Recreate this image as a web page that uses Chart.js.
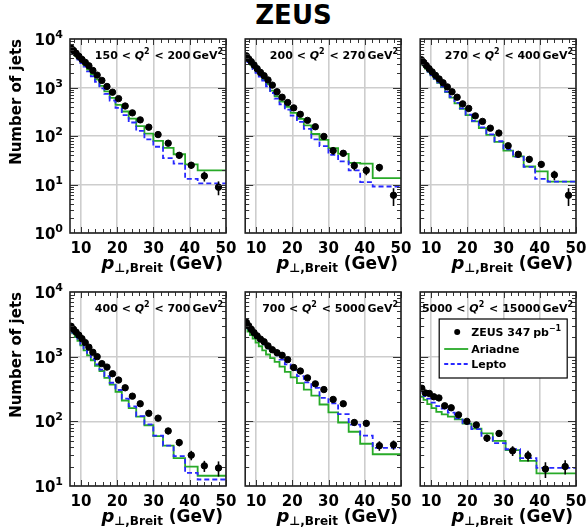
<!DOCTYPE html>
<html><head><meta charset="utf-8">
<script src="https://cdn.jsdelivr.net/npm/chart.js@4/dist/chart.umd.min.js"></script>
<style>
html,body{margin:0;padding:0;background:#fff;}
#wrap{position:relative;width:587px;height:528px;overflow:hidden;background:#fff;}
#title{position:absolute;left:0;top:2px;width:587px;text-align:center;font:bold 26px "DejaVu Sans",sans-serif;line-height:26px;color:#000;}
.pc{position:absolute;}
</style></head>
<body><div id="wrap"><div id="title">ZEUS</div></div>
<script>
// ---- bins (GeV) ----
const edgesFine = [7.0, 7.63, 8.31, 9.05, 9.86, 10.74, 11.70, 12.74, 13.88, 15.12, 16.47, 17.94, 19.54, 21.28, 23.18, 25.25, 27.51, 29.97, 32.64, 35.56, 38.73, 42.19, 45.96, 50.0];
const edgesCoarse = [7.0, 7.92, 8.95, 10.12, 11.44, 12.94, 14.63, 16.54, 18.70, 21.15, 23.91, 27.04, 30.57, 34.57, 39.09, 44.20, 50.0];
const xTickValues = [8,10,12,14,16,18,20,22,24,26,28,30,32,34,36,38,40,42,44,46,48,50];
const yTicksTop = [1,10,100,1000,10000];
const yTicksBottom = [10,100,1000,10000];
const q2Labels = [["150","200"],["200","270"],["270","400"],["400","700"],["700","5000"],["5000","15000"]];
const legendLabels = ["ZEUS 347", "Ariadne", "Lepto"];

// ---- panel 1: 150 < Q2 < 200 ----
const dataQ1    = [6500,5800,5100,4400,3800,3300,2800,2250,1800,1400,1050,800,590,415,300,215,152,107,71,40,25,15,8.8];
const errQ1     = [90,80,70,65,60,55,50,45,40,35,30,28,24,20,17,14,12,10,8,6,4,3.5,2.8];
const ariadneQ1 = [6700,5900,5200,4500,3900,3400,2900,2350,1850,1450,1080,830,610,440,320,228,160,112,79,57,42,26,19.6];
const leptoQ1   = [6600,5800,5000,4300,3750,3200,2700,2150,1700,1300,960,740,540,380,270,190,128,85,60,35,27,13,10.5];
// ---- panel 2: 200 < Q2 < 270 ----
const dataQ2    = [4500,3900,3400,2900,2450,2050,1750,1430,1120,815,630,490,380,280,210,155,98,50,44,24.5,19.5,22.5,6.0];
const errQ2     = [80,70,65,60,55,50,45,40,35,30,28,25,22,18,15,13,12,9,6,5,4,4,2.4];
const ariadneQ2 = [4600,4000,3450,2950,2500,2100,1800,1480,1170,860,660,510,400,300,225,165,110,83,56,43,28,27,13.5];
const leptoQ2   = [4500,3900,3350,2850,2400,2000,1680,1380,1060,770,590,450,350,262,195,140,85,62,41,30,19.5,11.2,9.1];
// ---- panel 3: 270 < Q2 < 400 ----
const dataQ3    = [3750,3300,2850,2450,2100,1780,1500,1250,1030,815,630,460,370,260,200,145,115,63,42,33,26,15.8,6.0];
const errQ3     = [75,70,65,60,55,50,45,40,35,30,28,25,22,18,15,13,12,9,6,5,4,3.5,2.4];
const ariadneQ3 = [3750,3300,2850,2450,2100,1780,1500,1250,1020,800,620,470,365,270,200,145,105,76,50,38,23.5,18.6,11.5];
const leptoQ3   = [3800,3350,2900,2480,2120,1800,1520,1270,1040,820,640,480,370,275,205,150,108,78,53,37,23,13,11.5];
// ---- panel 4: 400 < Q2 < 700 ----
const dataQ4    = [2950,2650,2400,2150,1900,1650,1400,1170,1000,780,690,545,435,330,245,187,133,112,71,47,30,20.5,19];
const errQ4     = [60,55,50,48,45,42,40,37,34,30,28,25,22,18,16,14,12,10,8,6,5,4,5];
const ariadneQ4 = [2950,2600,2300,2000,1750,1500,1250,1050,880,720,600,470,370,285,210,160,118,87,59,42,27,20,14.4];
const leptoQ4   = [3000,2650,2350,2050,1800,1550,1300,1100,920,760,630,500,395,305,225,170,120,90,60,42,29,16,12.6];
// ---- panel 5: 700 < Q2 < 5000 ----
const dataQ5    = [3400,3000,2650,2350,2100,1870,1700,1470,1280,1150,1050,900,680,600,470,380,310,218,187,96,93,42,43.5];
const errQ5     = [70,65,60,55,50,48,45,42,40,36,34,32,28,24,22,19,17,15,14,10,10,7,7];
const ariadneQ5 = [3200,2800,2450,2150,1900,1650,1450,1250,1080,950,830,700,580,480,390,310,250,182,138,96,69,45,31];
const leptoQ5   = [3500,3100,2750,2450,2200,1950,1750,1550,1350,1200,1050,900,760,620,500,400,330,230,190,129,89,60,39];
// ---- panel 6: 5000 < Q2 < 15000 ----
const dataQ6    = [325,275,270,240,230,174,162,126,100,88,55,65,35,29.5,18.3,20];
const errQ6     = [18,16,16,15,15,13,13,12,10,9,7,8,6,5.5,5,5];
const ariadneQ6 = [265,240,215,185,160,140,128,118,107,92,77,65,50,36,24.5,15.7];
const leptoQ6   = [316,276,245,224,195,172,157,136,111,92,76,57,46,37,27,19];

// ---- layout (plot areas) ----
const FONT = '"DejaVu Sans", sans-serif';
const GREEN = 'rgb(40,170,40)';
const BLUE = 'rgb(40,40,255)';
const GRID = 'rgb(205,205,205)';
const cols = [{l:70,r:226},{l:245,r:401},{l:420,r:576}];
const rows = [{t:39,b:233},{t:292,b:486}];

const panels = [
  {edges:edgesFine, data:dataQ1, err:errQ1, ari:ariadneQ1, lep:leptoQ1},
  {edges:edgesFine, data:dataQ2, err:errQ2, ari:ariadneQ2, lep:leptoQ2},
  {edges:edgesFine, data:dataQ3, err:errQ3, ari:ariadneQ3, lep:leptoQ3},
  {edges:edgesFine, data:dataQ4, err:errQ4, ari:ariadneQ4, lep:leptoQ4},
  {edges:edgesFine, data:dataQ5, err:errQ5, ari:ariadneQ5, lep:leptoQ5},
  {edges:edgesCoarse, data:dataQ6, err:errQ6, ari:ariadneQ6, lep:leptoQ6}
];

function stepPoints(edges, vals){
  const pts = vals.map((v,i)=>({x:edges[i], y:v}));
  pts.push({x:edges[edges.length-1], y:vals[vals.length-1]});
  return pts;
}
function centerPoints(edges, vals){
  return vals.map((v,i)=>({x:Math.sqrt(edges[i]*edges[i+1]), y:v}));
}
function fontStr(s){
  return (s.italic?'italic ':'') + 'bold ' + s.size + 'px ' + FONT;
}
function rich(ctx, segs, x, y, align){
  const w = segs.map(s=>{ctx.font = fontStr(s); return ctx.measureText(s.t).width + (s.gap||0);});
  const total = w.reduce((a,b)=>a+b,0);
  let cx = align==='right' ? x-total : (align==='center' ? x-total/2 : x);
  ctx.textAlign='left'; ctx.textBaseline='alphabetic';
  segs.forEach((s,i)=>{ ctx.font=fontStr(s); ctx.fillText(s.t, cx + (s.pre||0), y + (s.dy||0)); cx += w[i]; });
}

const decor = {
  id:'decor',
  afterDatasetsDraw(chart, args, opts){
    const ctx = chart.ctx, ca = chart.chartArea, xs = chart.scales.x, ys = chart.scales.y;
    const p = opts.panel;
    ctx.save();
    // error bars
    ctx.beginPath(); ctx.rect(ca.left, ca.top, ca.right-ca.left, ca.bottom-ca.top); ctx.clip();
    ctx.strokeStyle='#000'; ctx.lineWidth=1.6;
    p.data.forEach((v,i)=>{
      const xc = Math.sqrt(p.edges[i]*p.edges[i+1]);
      const px = xs.getPixelForValue(xc);
      const y1 = ys.getPixelForValue(v + p.err[i]);
      const y2 = ys.getPixelForValue(Math.max(v - p.err[i], 0.01));
      ctx.beginPath(); ctx.moveTo(px, y1); ctx.lineTo(px, y2); ctx.stroke();
    });
    ctx.restore();
    ctx.save();
    // minor/major ticks inward
    ctx.strokeStyle='#333'; ctx.lineWidth=1;
    xTickValues.forEach(v=>{
      const px = Math.round(xs.getPixelForValue(v))+0.5;
      const len = (v%10===0)?6:4;
      ctx.beginPath();
      ctx.moveTo(px, ca.bottom); ctx.lineTo(px, ca.bottom-len);
      ctx.moveTo(px, ca.top); ctx.lineTo(px, ca.top+len);
      ctx.stroke();
    });
    const ymin = ys.min, ymax = ys.max;
    for(let d=ymin; d<ymax; d*=10){
      for(let m=1; m<10; m++){
        const v = d*m;
        if(v<=ymin || v>=ymax) continue;
        const py = Math.round(ys.getPixelForValue(v))+0.5;
        const len = (m===1)?8:4;
        ctx.beginPath();
        ctx.moveTo(ca.left, py); ctx.lineTo(ca.left+len, py);
        ctx.moveTo(ca.right, py); ctx.lineTo(ca.right-len, py);
        ctx.stroke();
      }
    }
    // frame
    ctx.strokeStyle='#222'; ctx.lineWidth=1.6;
    ctx.strokeRect(ca.left, ca.top, ca.right-ca.left, ca.bottom-ca.top);
    ctx.fillStyle='#000';
    // y tick labels (10 with raised exponent), left column only
    if(opts.index%3===0){
      ys.ticks.forEach(t=>{
        const py = ys.getPixelForValue(t.value);
        const e = String(Math.round(Math.log10(t.value)));
        rich(ctx, [{t:'10', size:15},{t:e, size:11, dy:-7}], ca.left-7, py+6, 'right');
      });
    }
    // panel label
    const lab = q2Labels[opts.index];
    rich(ctx, [
      {t:lab[0]+' < ', size:11},
      {t:'Q', size:11, italic:true},
      {t:'2', size:8, dy:-5, gap:1},
      {t:' < '+lab[1], size:11, gap:2},
      {t:'GeV', size:11},
      {t:'2', size:8, dy:-5}
    ], ca.right-3, ca.top+20, 'right');
    // x title
    rich(ctx, [
      {t:'p', size:18, italic:true},
      {t:'\u22a5,Breit', size:12, dy:3},
      {t:' (GeV)', size:17}
    ], ca.right-3, ca.bottom+36, 'right');
    // legend
    if(opts.index===5){
      const bx = ca.left+19, by = ca.top+27, bw = 128, bh = 59;
      ctx.fillStyle='#fff'; ctx.fillRect(bx,by,bw,bh);
      ctx.strokeStyle='#000'; ctx.lineWidth=1.2; ctx.strokeRect(bx,by,bw,bh);
      ctx.fillStyle='#000';
      ctx.beginPath(); ctx.arc(ca.left+37, ca.top+40, 3, 0, Math.PI*2); ctx.fill();
      rich(ctx, [{t:legendLabels[0]+' ', size:11, gap:-1},{t:'pb', size:11},{t:'\u22121', size:8, dy:-5}], ca.left+51, ca.top+44, 'left');
      ctx.strokeStyle=GREEN; ctx.lineWidth=1.8;
      ctx.beginPath(); ctx.moveTo(ca.left+24, ca.top+57); ctx.lineTo(ca.left+48, ca.top+57); ctx.stroke();
      ctx.fillStyle='#000';
      rich(ctx, [{t:legendLabels[1], size:11}], ca.left+51, ca.top+61, 'left');
      ctx.strokeStyle=BLUE; ctx.setLineDash([4,2.5]);
      ctx.beginPath(); ctx.moveTo(ca.left+24, ca.top+72); ctx.lineTo(ca.left+48, ca.top+72); ctx.stroke();
      ctx.setLineDash([]);
      rich(ctx, [{t:legendLabels[2], size:11}], ca.left+51, ca.top+76, 'left');
    }
    ctx.restore();
  }
};

const wrap = document.getElementById('wrap');
panels.forEach((p, idx)=>{
  const col = cols[idx%3], row = rows[Math.floor(idx/3)];
  const leftCol = (idx%3===0);
  const yW = leftCol ? 70 : 0;
  const padL = leftCol ? 0 : 4, padR = 22, padT = 14, padB = 4, xH = 46;
  const W = padL + yW + (col.r-col.l) + padR;
  const H = padT + (row.b-row.t) + xH + padB;
  const div = document.createElement('div'); div.className='pc';
  const cv = document.createElement('canvas');
  cv.width=W; cv.height=H; cv.style.width=W+'px'; cv.style.height=H+'px';
  div.appendChild(cv); wrap.appendChild(div);
  const yTicks = idx<3 ? yTicksTop : yTicksBottom;
  const chart = new Chart(cv, {
    type:'scatter',
    data:{datasets:[
      {label:'ZEUS 347 pb-1', data:centerPoints(p.edges, p.data), backgroundColor:'#000', borderColor:'#000', pointRadius:3.2, pointHoverRadius:3.2, showLine:false},
      {label:'Lepto', data:stepPoints(p.edges, p.lep), showLine:true, stepped:'after', borderColor:BLUE, borderWidth:1.8, borderDash:[5,3], pointRadius:0, fill:false},
      {label:'Ariadne', data:stepPoints(p.edges, p.ari), showLine:true, stepped:'after', borderColor:GREEN, borderWidth:1.8, pointRadius:0, fill:false}
    ]},
    options:{
      responsive:false, maintainAspectRatio:false, animation:false, devicePixelRatio:1,
      layout:{padding:{top:padT, right:padR, bottom:padB, left:padL}},
      plugins:{legend:{display:false}, tooltip:{enabled:false}, decor:{panel:p, index:idx}},
      scales:{
        x:{type:'linear', min:7, max:50,
          afterBuildTicks:s=>{ s.ticks = xTickValues.map(v=>({value:v})); },
          afterFit:s=>{ s.height = xH; },
          border:{display:false},
          grid:{drawTicks:false, lineWidth:1.6, color:c=> (c.tick && c.tick.value%10===0) ? GRID : 'rgba(0,0,0,0)'},
          ticks:{padding:7, autoSkip:false, maxRotation:0, color:'#000', font:{family:FONT, size:15, weight:'bold'},
                 callback:v=> (v%10===0) ? String(v) : ''}
        },
        y:{type:'logarithmic', min:yTicks[0], max:10000,
          afterBuildTicks:s=>{ s.ticks = yTicks.map(v=>({value:v, major:true})); },
          afterFit:s=>{ s.width = yW; },
          border:{display:false},
          grid:{drawTicks:false, lineWidth:1.6, color:GRID},
          title:{display:leftCol, text:'Number of jets', align:'end', color:'#000', font:{family:FONT, size:15, weight:'bold'}, padding:{top:8,bottom:0}},
          ticks:{display:false}
        }
      }
    },
    plugins:[decor]
  });
  let ca = chart.chartArea;
  const dw = (col.r-col.l) - (ca.right-ca.left), dh = (row.b-row.t) - (ca.bottom-ca.top);
  if(Math.abs(dw)>0.5 || Math.abs(dh)>0.5){
    chart.resize(W+dw, H+dh);
    cv.style.width=(W+dw)+'px'; cv.style.height=(H+dh)+'px';
    ca = chart.chartArea;
  }
  div.style.left = (col.l - ca.left)+'px';
  div.style.top = (row.t - ca.top)+'px';
});
</script>
</body></html>
